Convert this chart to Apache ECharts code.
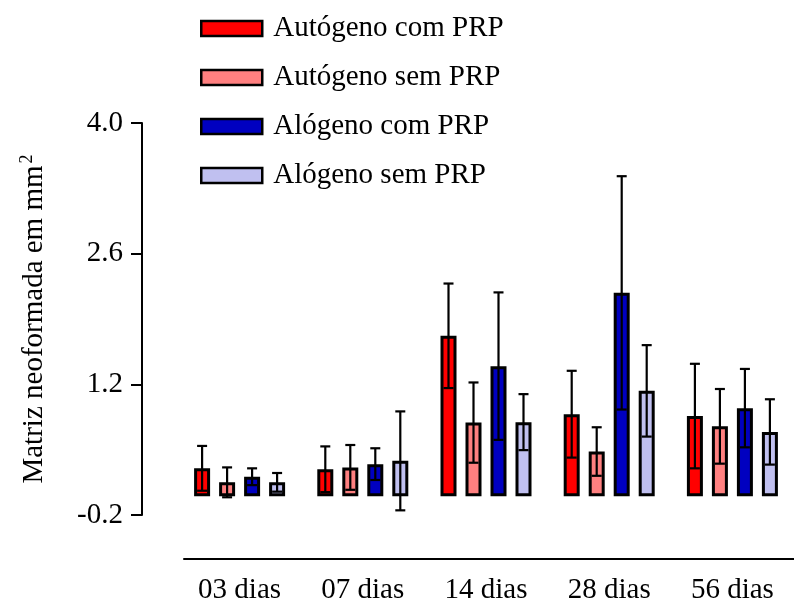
<!DOCTYPE html>
<html>
<head>
<meta charset="utf-8">
<script src="https://cdn.jsdelivr.net/npm/echarts@6/dist/echarts.min.js"></script>
<style>
  html, body { margin: 0; padding: 0; background: #fff; }
  #chart { width: 794px; height: 607px; }
</style>
</head>
<body>
<div id="chart"></div>
<script>
// Groups on the x axis
const categories = ['03 dias', '07 dias', '14 dias', '28 dias', '56 dias'];

// Series names
const seriesNames = ['Autógeno com PRP', 'Autógeno sem PRP', 'Alógeno com PRP', 'Alógeno sem PRP'];

// Means (mm²)
const autoComPRP = [0.30, 0.29, 1.72, 0.88, 0.86];
const autoSemPRP = [0.15, 0.31, 0.79, 0.48, 0.75];
const aloComPRP  = [0.21, 0.345, 1.395, 2.18, 0.945];
const aloSemPRP  = [0.15, 0.38, 0.795, 1.13, 0.69];

// Standard deviations
const autoComSD = [0.24, 0.245, 0.56, 0.465, 0.56];
const autoSemSD = [0.16, 0.24, 0.43, 0.26, 0.40];
const aloComSD  = [0.09, 0.17, 0.79, 1.25, 0.42];
const aloSemSD  = [0.10, 0.53, 0.30, 0.49, 0.35];

// Y axis ticks
const yTicks = [-0.2, 1.2, 2.6, 4.0];

const means = [autoComPRP, autoSemPRP, aloComPRP, aloSemPRP];
const sds = [autoComSD, autoSemSD, aloComSD, aloSemSD];
const colors = ['#ff0000', '#ff8080', '#0000c0', '#c0c0f0'];

const FONT = '"Liberation Serif", "Times New Roman", serif';
const BAR_W = 16;
const BAR_GAP = 0.5625;
const PITCH = BAR_W * (1 + BAR_GAP);

const chart = echarts.init(document.getElementById('chart'), null, { renderer: 'canvas' });

const barSeries = seriesNames.map((name, k) => ({
  name: name,
  type: 'bar',
  xAxisIndex: 0,
  yAxisIndex: 0,
  barWidth: BAR_W,
  barGap: (BAR_GAP * 100) + '%',
  itemStyle: { color: colors[k], borderColor: '#000', borderWidth: 3 },
  emphasis: { disabled: true },
  data: means[k],
  z: 2
}));

// Error bars (mean ± SD) drawn over each bar
const errData = [];
means.forEach((arr, k) => {
  arr.forEach((m, i) => {
    errData.push([i, m - sds[k][i], m + sds[k][i], k]);
  });
});

const errSeries = {
  type: 'custom',
  xAxisIndex: 0,
  yAxisIndex: 0,
  data: errData,
  z: 5,
  silent: true,
  encode: { x: 0, y: [1, 2] },
  renderItem: function (params, api) {
    const i = api.value(0);
    const k = api.value(3);
    const lo = api.coord([i, api.value(1)]);
    const hi = api.coord([i, api.value(2)]);
    const x = lo[0] + (k - 1.5) * PITCH;
    const cap = 5;
    const style = { stroke: '#000', lineWidth: 2.2 };
    return {
      type: 'group',
      children: [
        { type: 'line', shape: { x1: x, y1: lo[1], x2: x, y2: hi[1] }, style: style },
        { type: 'line', shape: { x1: x - cap, y1: hi[1], x2: x + cap, y2: hi[1] }, style: style },
        { type: 'line', shape: { x1: x - cap, y1: lo[1], x2: x + cap, y2: lo[1] }, style: style }
      ]
    };
  }
};

const option = {
  backgroundColor: '#fff',
  animation: false,
  legend: {
    orient: 'vertical',
    left: 195,
    top: 9,
    itemWidth: 61,
    itemHeight: 15,
    itemGap: 20,
    icon: 'rect',
    selectedMode: false,
    data: seriesNames,
    itemStyle: { borderColor: '#000', borderWidth: 2.5 },
    textStyle: { fontFamily: FONT, fontSize: 29, color: '#000', padding: [0, 0, 0, 6] }
  },
  grid: [
    { left: 178, width: 629, top: 123, bottom: 92, containLabel: false },
    { left: 184, right: 0, top: 123, bottom: 92, containLabel: false }
  ],
  xAxis: [
    {
      type: 'category',
      gridIndex: 0,
      data: categories,
      axisLine: { show: false },
      axisTick: { show: false },
      axisLabel: { margin: 61, fontFamily: FONT, fontSize: 29, color: '#000' }
    },
    {
      type: 'category',
      gridIndex: 1,
      data: categories,
      position: 'bottom',
      offset: 44,
      axisLine: { show: true, onZero: false, lineStyle: { color: '#000', width: 2 } },
      axisTick: { show: false },
      axisLabel: { show: false }
    }
  ],
  yAxis: [
    {
      type: 'value',
      gridIndex: 0,
      min: yTicks[0],
      max: yTicks[yTicks.length - 1],
      interval: yTicks[1] - yTicks[0],
      offset: 36,
      splitLine: { show: false },
      axisLine: { show: true, lineStyle: { color: '#000', width: 2 } },
      axisTick: { show: true, length: 11, lineStyle: { color: '#000', width: 2 } },
      axisLabel: {
        margin: 19, fontFamily: FONT, fontSize: 29, color: '#000',
        formatter: function (v) { return v.toFixed(1); }
      },
      name: '{m|Matriz neoformada em mm}{s|2}',
      nameLocation: 'middle',
      nameGap: 92,
      nameTextStyle: {
        color: '#000',
        rich: {
          m: { fontFamily: FONT, fontSize: 29, color: '#000' },
          s: { fontFamily: FONT, fontSize: 18, color: '#000', verticalAlign: 'top', padding: [0, 0, 14, 2] }
        }
      }
    },
    {
      type: 'value',
      gridIndex: 1,
      show: false
    }
  ],
  series: barSeries.concat([errSeries])
};

chart.setOption(option);
</script>
</body>
</html>
